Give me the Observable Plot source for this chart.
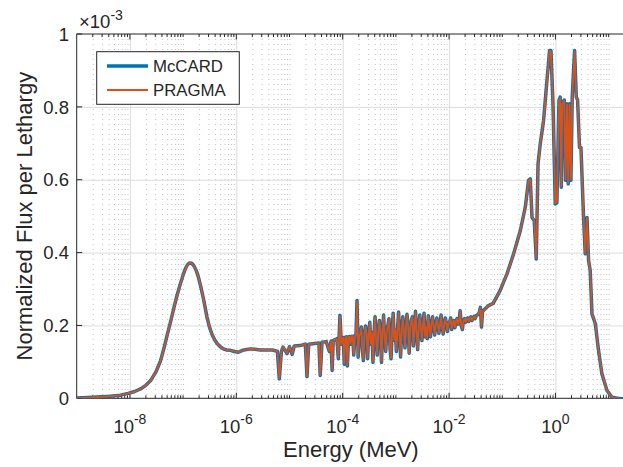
<!DOCTYPE html>
<html><head><meta charset="utf-8">
<script src="https://cdn.jsdelivr.net/npm/d3@7"></script>
<script src="https://cdn.jsdelivr.net/npm/@observablehq/plot@0.6"></script>
<style>
html,body{margin:0;padding:0;background:#fff;}
#chart{width:623px;height:467px;overflow:hidden;}
svg{display:block;}
</style></head><body><div id="chart"></div>
<script>
// Energy grid (MeV)
const energy = [
 1e-9,2e-9,4.2e-9,6.5e-9,9.1e-9,1.2e-8,1.55e-8,1.95e-8,2.4e-8,3.0e-8,
 3.7e-8,4.3e-8,4.9e-8,5.7e-8,6.5e-8,7.5e-8,8.7e-8,9.8e-8,1.08e-7,1.18e-7,
 1.3e-7,1.42e-7,1.55e-7,1.72e-7,1.9e-7,2.15e-7,2.4e-7,2.75e-7,3.05e-7,3.4e-7,
 3.8e-7,4.3e-7,4.9e-7,5.6e-7,6.5e-7,7.6e-7,9e-7,
 1.08e-6,1.35e-6,1.8e-6,2.2e-6,2.75e-6,4.7e-6,5.8e-6,6.3e-6,6.9e-6,7.4e-6,
 8.8e-6,9.8e-6,1.1e-5,1.2e-5,1.55e-5,1.94e-5,2.09e-5,2.25e-5,2.9e-5,3.5e-5,
 3.7e-5,4.0e-5,4.8e-5,5.5e-5,5.9e-5,6.2e-5,6.5e-5,7.6e-5,8.1e-5,8.7e-5,9.2e-5,
 1.00e-4,1.05e-4,1.10e-4,1.15e-4,1.20e-4,1.26e-4,1.32e-4,1.38e-4,1.45e-4,1.51e-4,
 1.58e-4,1.66e-4,1.74e-4,1.82e-4,1.91e-4,2.00e-4,2.09e-4,2.19e-4,2.29e-4,2.40e-4,
 2.51e-4,2.63e-4,2.75e-4,2.88e-4,3.02e-4,3.16e-4,3.31e-4,3.47e-4,3.63e-4,3.80e-4,
 3.98e-4,4.17e-4,4.37e-4,4.57e-4,4.79e-4,5.01e-4,5.25e-4,5.50e-4,5.75e-4,6.03e-4,
 6.31e-4,6.61e-4,6.92e-4,7.24e-4,7.59e-4,7.94e-4,8.32e-4,8.71e-4,9.12e-4,9.55e-4,
 1.00e-3,1.05e-3,1.10e-3,1.15e-3,1.20e-3,1.26e-3,1.32e-3,1.38e-3,1.45e-3,1.51e-3,
 1.58e-3,1.66e-3,1.74e-3,1.82e-3,1.91e-3,2.00e-3,2.09e-3,2.19e-3,2.29e-3,2.40e-3,
 2.51e-3,2.63e-3,2.75e-3,2.88e-3,3.02e-3,3.16e-3,3.31e-3,3.47e-3,3.63e-3,3.80e-3,
 3.98e-3,4.17e-3,4.37e-3,4.57e-3,4.79e-3,5.01e-3,5.25e-3,5.50e-3,5.75e-3,6.03e-3,
 6.31e-3,6.61e-3,6.92e-3,7.24e-3,7.59e-3,7.94e-3,8.32e-3,8.71e-3,9.12e-3,9.55e-3,
 1.00e-2,1.05e-2,1.10e-2,1.15e-2,1.20e-2,1.26e-2,1.32e-2,1.38e-2,1.45e-2,1.51e-2,
 1.58e-2,1.66e-2,1.74e-2,1.82e-2,1.91e-2,2.00e-2,2.09e-2,2.19e-2,2.29e-2,2.40e-2,
 2.51e-2,2.63e-2,2.75e-2,2.88e-2,3.02e-2,3.16e-2,3.31e-2,3.47e-2,3.63e-2,3.80e-2,
 3.98e-2,4.17e-2,4.37e-2,
 5.3e-2,6.6e-2,8.9e-2,0.12,0.16,0.214,0.265,0.305,0.329,0.354,
 0.39,0.426,0.46,0.507,0.585,0.677,0.758,0.805,0.879,0.97,
 1.04,1.14,1.2,1.26,1.31,1.43,1.51,1.61,1.70,1.80,
 1.91,2.02,2.24,2.41,2.55,2.77,2.95,3.3,3.55,3.83,
 4.1,4.4,4.75,5.5,6.3,7.3,9.1,11.3,16,20
];
// Normalized flux per lethargy, in units of 1e-3
const mccard = [
 0.002,0.004,0.007,0.010,0.015,0.02,0.027,0.037,0.05,0.073,
 0.105,0.14,0.174,0.212,0.247,0.283,0.316,0.34,0.357,0.368,
 0.373,0.372,0.366,0.353,0.334,0.302,0.27,0.224,0.198,0.178,
 0.163,0.151,0.143,0.137,0.134,0.133,0.13,
 0.128,0.134,0.137,0.136,0.134,0.134,0.13,0.055,0.13,0.142,
 0.124,0.143,0.122,0.145,0.146,0.15,0.061,0.15,0.152,0.153,
 0.064,0.155,0.157,0.13,0.158,0.078,0.16,0.165,0.11,0.229,0.15,
 0.168,0.095,0.169,0.17,0.09,0.17,0.171,0.15,0.172,0.172,
 0.12,0.173,0.174,0.27,0.114,0.175,0.176,0.197,0.135,0.105,
 0.178,0.2,0.179,0.11,0.18,0.21,0.15,0.181,0.1,0.182,
 0.225,0.16,0.12,0.183,0.215,0.184,0.1,0.185,0.23,0.17,
 0.13,0.186,0.2,0.22,0.14,0.11,0.188,0.235,0.16,0.189,
 0.13,0.19,0.238,0.175,0.115,0.19,0.225,0.191,0.14,0.192,
 0.232,0.2,0.125,0.193,0.215,0.225,0.145,0.194,0.24,0.18,
 0.135,0.195,0.23,0.196,0.16,0.2,0.235,0.17,0.197,0.165,
 0.228,0.198,0.17,0.205,0.225,0.2,0.175,0.2,0.222,0.205,
 0.18,0.203,0.23,0.2,0.178,0.205,0.222,0.207,0.185,0.208,
 0.21,0.222,0.19,0.21,0.215,0.195,0.212,0.22,0.205,0.213,
 0.242,0.2,0.19,0.215,0.22,0.21,0.218,0.222,0.212,0.22,
 0.225,0.215,0.222,0.226,0.22,0.228,0.23,0.232,0.238,0.251,
 0.197,0.24,0.243,
 0.255,0.262,0.297,0.343,0.398,0.462,0.526,0.6,0.604,0.498,
 0.489,0.384,0.645,0.70,0.764,0.874,0.956,0.956,0.81,0.535,
 0.538,0.819,0.828,0.581,0.81,0.82,0.6,0.81,0.59,0.81,
 0.6,0.828,0.956,0.828,0.82,0.69,0.69,0.498,0.398,0.498,
 0.38,0.352,0.233,0.206,0.133,0.069,0.023,0.004,0.0,0.0
];
const pragma = [
 0.002,0.004,0.007,0.010,0.015,0.02,0.027,0.037,0.05,0.073,
 0.105,0.14,0.174,0.212,0.247,0.283,0.316,0.34,0.357,0.368,
 0.373,0.372,0.366,0.353,0.334,0.302,0.27,0.224,0.198,0.178,
 0.163,0.151,0.143,0.137,0.134,0.133,0.13,
 0.128,0.134,0.137,0.136,0.134,0.134,0.13,0.056,0.13,0.142,
 0.125,0.143,0.123,0.145,0.146,0.15,0.062,0.15,0.152,0.153,
 0.065,0.155,0.157,0.131,0.158,0.079,0.16,0.165,0.112,0.227,0.15,
 0.168,0.097,0.169,0.17,0.092,0.17,0.171,0.151,0.172,0.172,
 0.121,0.173,0.174,0.268,0.116,0.175,0.176,0.196,0.136,0.107,
 0.178,0.199,0.179,0.112,0.18,0.209,0.151,0.181,0.102,0.182,
 0.224,0.161,0.121,0.183,0.214,0.184,0.102,0.185,0.229,0.171,
 0.131,0.186,0.2,0.219,0.141,0.112,0.188,0.234,0.161,0.189,
 0.131,0.19,0.237,0.175,0.117,0.19,0.224,0.191,0.141,0.192,
 0.231,0.2,0.126,0.193,0.215,0.224,0.146,0.194,0.239,0.18,
 0.136,0.195,0.229,0.196,0.161,0.2,0.234,0.171,0.197,0.166,
 0.227,0.198,0.171,0.205,0.224,0.2,0.176,0.2,0.221,0.205,
 0.181,0.203,0.229,0.2,0.179,0.205,0.221,0.207,0.186,0.208,
 0.21,0.221,0.191,0.21,0.215,0.196,0.212,0.22,0.205,0.213,
 0.241,0.2,0.191,0.215,0.22,0.21,0.218,0.222,0.212,0.22,
 0.225,0.215,0.222,0.226,0.22,0.228,0.23,0.232,0.238,0.25,
 0.198,0.24,0.243,
 0.255,0.262,0.297,0.343,0.398,0.462,0.526,0.598,0.602,0.499,
 0.49,0.386,0.643,0.70,0.764,0.872,0.954,0.954,0.81,0.537,
 0.54,0.817,0.826,0.583,0.808,0.818,0.602,0.808,0.592,0.808,
 0.602,0.826,0.954,0.826,0.818,0.69,0.69,0.499,0.399,0.497,
 0.381,0.352,0.234,0.206,0.133,0.069,0.023,0.004,0.0,0.0
];
const seriesNames = ["McCARD", "PRAGMA"];
const seriesColors = ["#0072BD", "#D95319"];
const xMajorTicks = [1e-8, 1e-6, 1e-4, 1e-2, 1];
const xTickExponents = ["-8", "-6", "-4", "-2", "0"];
const yTicks = [0, 0.2, 0.4, 0.6, 0.8, 1];
const yTickLabels = ["0", "0.2", "0.4", "0.6", "0.8", "1"];
const yExponent = "-3";
const xLabel = "Energy (MeV)";
const yLabel = "Normalized Flux per Lethargy";

const W = 623, H = 467, ML = 76.7, MT = 34, MB = 68.7, MR = 0;
const XMAX = 18.6;
const font = "'Liberation Sans', Arial, Helvetica, sans-serif";
const ink = "#262626";

const rows = vals => energy.map((e, i) => ({e, v: vals[i]}));
const minorTicks = [];
for (let d = -9; d <= 1; d++) for (let k = 1; k <= 9; k++) {
  const v = k * Math.pow(10, d);
  if (v > 1e-9 * 1.0001 && v <= XMAX) minorTicks.push(v);
}
const isMajor = v => xMajorTicks.some(t => Math.abs(t - v) / t < 1e-6);
const minorGrid = minorTicks.filter(v => !isMajor(v));

const plot = Plot.plot({
  width: W, height: H,
  marginLeft: ML, marginRight: MR, marginTop: MT, marginBottom: MB,
  x: {type: "log", domain: [1e-9, XMAX], axis: null},
  y: {domain: [0, 1], axis: null},
  style: {fontFamily: font, background: "white", overflow: "hidden"},
  marks: [
    Plot.ruleX(minorGrid, {stroke: "#c2c2c2", strokeWidth: 1, strokeDasharray: "1,4"}),
    Plot.ruleX(xMajorTicks, {stroke: "#dcdcdc", strokeWidth: 1}),
    Plot.ruleY([0.2, 0.4, 0.6, 0.8], {stroke: "#dcdcdc", strokeWidth: 1}),
    Plot.line(rows(mccard), {x: "e", y: "v", stroke: seriesColors[0], strokeWidth: 3.5, clip: true}),
    Plot.line(rows(pragma), {x: "e", y: "v", stroke: seriesColors[1], strokeWidth: 1.8, clip: true})
  ]
});
document.getElementById("chart").appendChild(plot);

const svg = d3.select(plot);
const sx = plot.scale("x"), sy = plot.scale("y");
const X = v => sx.apply(v), Y = v => sy.apply(v);
const x0 = X(1e-9), yb = Y(0), yt = Y(1);
const firstLine = plot.querySelector('[aria-label="line"]');
const ax = svg.insert("g", () => firstLine).attr("stroke", ink).attr("fill", "none").attr("stroke-width", 1);
ax.append("line").attr("x1", x0).attr("x2", W + 5).attr("y1", yb).attr("y2", yb);
ax.append("line").attr("x1", x0).attr("x2", W + 5).attr("y1", yt).attr("y2", yt);
ax.append("line").attr("x1", x0).attr("x2", x0).attr("y1", yb).attr("y2", yt);
minorTicks.forEach(v => {
  const L = isMajor(v) ? 5.5 : 3;
  ax.append("line").attr("x1", X(v)).attr("x2", X(v)).attr("y1", yb).attr("y2", yb - L);
  ax.append("line").attr("x1", X(v)).attr("x2", X(v)).attr("y1", yt).attr("y2", yt + L);
});
yTicks.forEach(v => {
  ax.append("line").attr("x1", x0).attr("x2", x0 + 5.5).attr("y1", Y(v)).attr("y2", Y(v));
});

const txt = svg.append("g").attr("fill", ink).attr("font-family", font);
xMajorTicks.forEach((t, i) => {
  const el = txt.append("text").attr("x", X(t)).attr("y", 433).attr("text-anchor", "middle").attr("font-size", 18.5);
  el.append("tspan").text("10");
  el.append("tspan").attr("dy", -9).attr("font-size", 14).text(xTickExponents[i]);
});
yTicks.forEach((t, i) => {
  txt.append("text").attr("x", 69).attr("y", Y(t)).attr("dy", "0.36em").attr("text-anchor", "end")
    .attr("font-size", 18.5).text(yTickLabels[i]);
});
const ex = txt.append("text").attr("x", 79).attr("y", 28).attr("text-anchor", "start").attr("font-size", 18.5);
ex.append("tspan").text("\u00d710");
ex.append("tspan").attr("dy", -8).attr("font-size", 14).text(yExponent);
txt.append("text").attr("x", (x0 + 625) / 2).attr("y", 457).attr("text-anchor", "middle")
  .attr("font-size", 22).text(xLabel);
txt.append("text").attr("transform", `translate(32,${(yb + yt) / 2}) rotate(-90)`).attr("text-anchor", "middle")
  .attr("font-size", 22).text(yLabel);

// Legend
const lg = svg.append("g").attr("font-family", font);
lg.append("rect").attr("x", 96.7).attr("y", 51.7).attr("width", 142.6).attr("height", 52.6)
  .attr("fill", "white").attr("stroke", ink).attr("stroke-width", 1);
seriesNames.forEach((name, i) => {
  const cy = 66 + i * 24;
  lg.append("line").attr("x1", 107).attr("x2", 148).attr("y1", cy).attr("y2", cy)
    .attr("stroke", seriesColors[i]).attr("stroke-width", i === 0 ? 3.5 : 1.8);
  lg.append("text").attr("x", 153).attr("y", cy).attr("dy", "0.36em").attr("text-anchor", "start")
    .attr("font-size", 16.8).attr("fill", ink).text(name);
});
</script></body></html>
